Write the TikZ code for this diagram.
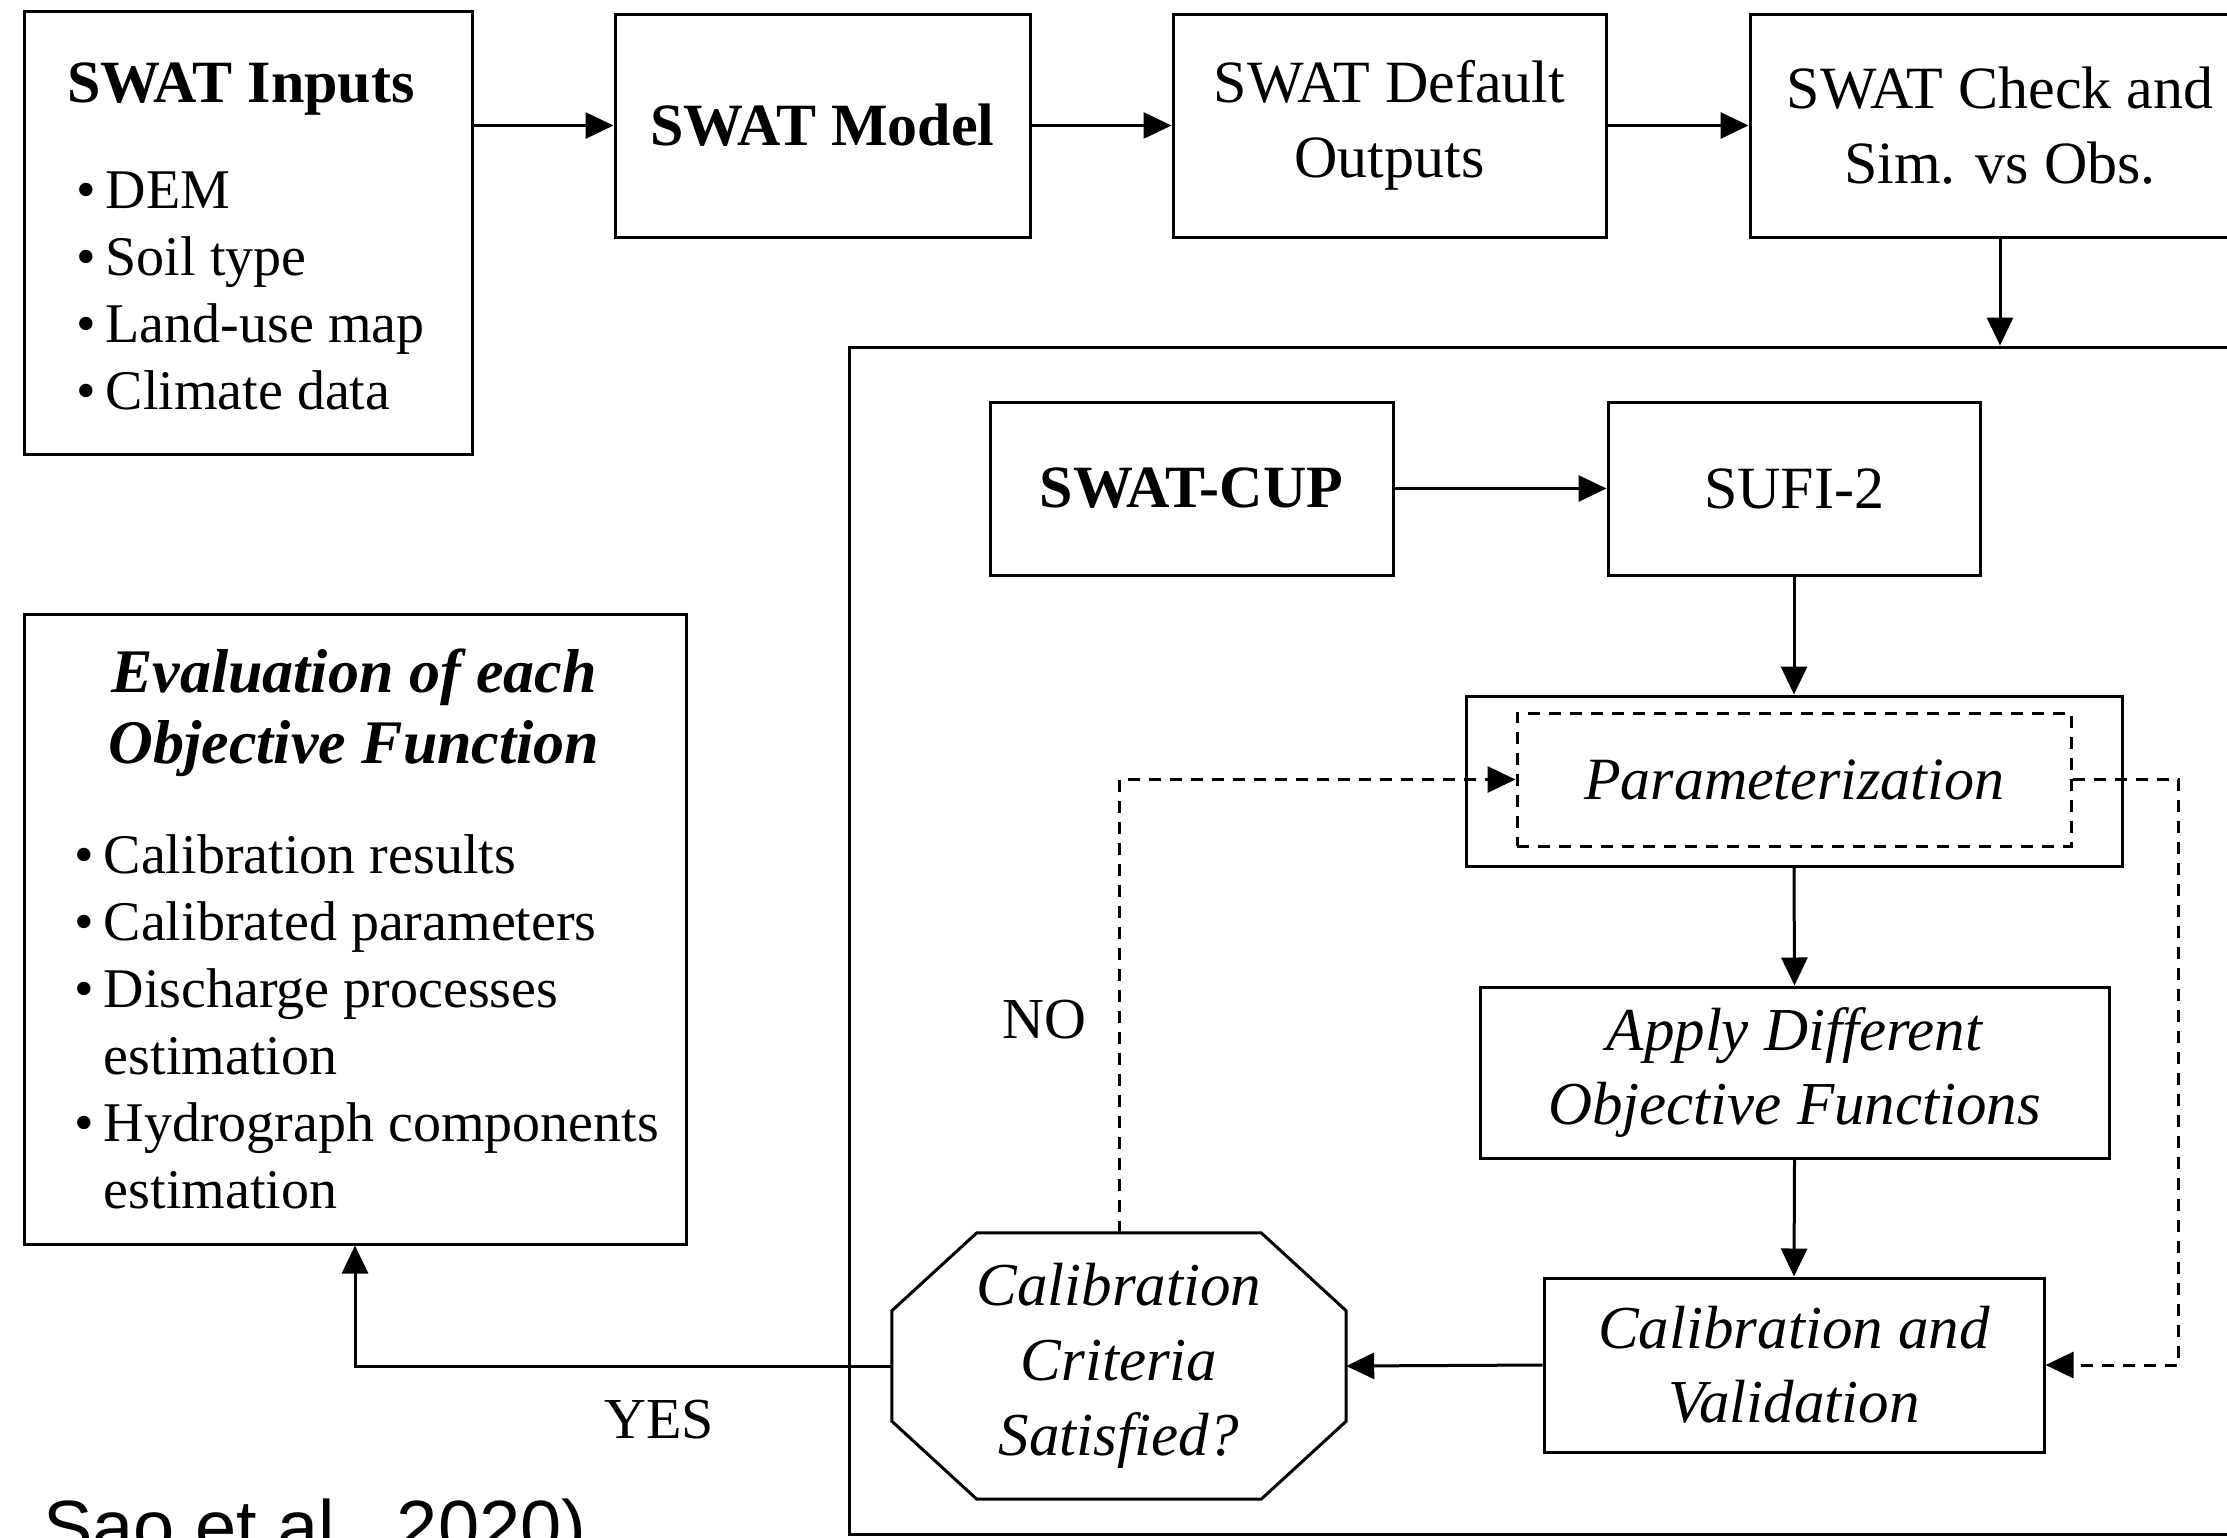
\documentclass[tikz,border=0pt]{standalone}
\usepackage{fontspec}
\setmainfont{Liberation Serif}
\newfontfamily\capfont{Liberation Sans}
\usetikzlibrary{arrows.meta,calc}
\begin{document}
\begin{tikzpicture}[x=1pt,y=-1pt,
  box/.style={draw, line width=3pt, inner sep=0pt, align=center, font=\fontsize{60}{75}\selectfont},
  itbox/.style={box, font=\fontsize{61}{74}\selectfont\itshape},
  txt/.style={inner sep=0pt},
  arr/.style={line width=3pt, -{Triangle[length=28pt,width=26pt]}},
  darr/.style={line width=3pt, dash pattern=on 12pt off 9pt, -{Triangle[length=28pt,width=26pt]}},
  dbox/.style={draw, line width=3pt, dash pattern=on 12pt off 9pt, inner sep=0pt},
]
\useasboundingbox (0,0) rectangle (2227,1537);
\clip (0,0) rectangle (2227,1537);
\fill[white] (0,0) rectangle (2227,1537);

% ---- top row ----
\node[box, minimum width=448pt, minimum height=443pt] (inputs) at (248,232.5) {};
\node[txt, anchor=base west, font=\fontsize{56}{67}\selectfont] (inputstxt) at (67,102)
 {\begin{tabular}[t]{@{}l@{\hspace{10pt}}l@{}}
  \multicolumn{2}{@{}l@{}}{\fontsize{60}{67}\selectfont\bfseries SWAT Inputs}\\[39pt]
  \hspace{9pt}\textbullet & DEM\\
  \hspace{9pt}\textbullet & Soil type\\
  \hspace{9pt}\textbullet & Land-use map\\
  \hspace{9pt}\textbullet & Climate data
  \end{tabular}};

\node[box, minimum width=415pt, minimum height=223pt, font=\fontsize{60}{75}\selectfont\bfseries] (model) at (822.5,125.5) {SWAT Model};
\node[box, minimum width=433pt, minimum height=223pt] (default) at (1389.5,125.5) {SWAT Default\\Outputs};
\node[box, minimum width=500pt, minimum height=223pt] (check) at (2000,125.5) {SWAT Check and\\Sim. vs Obs.};

% ---- container ----
\node[draw, line width=3pt, inner sep=0pt, minimum width=1420pt, minimum height=1187pt] (cont) at (1559,940.5) {};

\node[box, minimum width=403pt, minimum height=173pt, font=\fontsize{60}{75}\selectfont\bfseries] (cup) at (1191.5,488.5) {SWAT-CUP};
\node[box, minimum width=372pt, minimum height=173pt] (sufi) at (1794,488.5) {SUFI-2};

\node[box, minimum width=656pt, minimum height=170pt] (param) at (1794,781) {};
\node[dbox, minimum width=554pt, minimum height=133pt, font=\fontsize{60}{74}\selectfont\itshape] (parin) at (1794,779.5) {Parameterization};

\node[itbox, minimum width=629pt, minimum height=171pt] (apply) at (1794.5,1072.5) {Apply Different\\Objective Functions};
\node[itbox, minimum width=500pt, minimum height=174pt] (calval) at (1794,1365) {Calibration and\\Validation};

% ---- octagon ----
\node[txt, minimum width=454pt, minimum height=266pt, align=center, font=\fontsize{61}{75}\selectfont\itshape] (oct) at (1119,1366) {Calibration\\Criteria\\Satisfied?};
\draw[line width=3pt, line join=miter]
  ([xshift=85pt]oct.north west) -- ([xshift=-85pt]oct.north east)
  -- ([yshift=-78pt]oct.north east) -- ([yshift=78pt]oct.south east)
  -- ([xshift=-85pt]oct.south east) -- ([xshift=85pt]oct.south west)
  -- ([yshift=78pt]oct.south west) -- ([yshift=-78pt]oct.north west) -- cycle;

% ---- evaluation ----
\node[box, minimum width=662pt, minimum height=630pt] (eval) at (355,929) {};
\node[txt, anchor=base, font=\fontsize{62}{71}\selectfont\bfseries\itshape] (evalhead) at (354,692)
 {\begin{tabular}[t]{@{}c@{}}Evaluation of each\\Objective Function\end{tabular}};
\node[txt, anchor=base west, font=\fontsize{56}{67}\selectfont] (evaltxt) at (74,873)
 {\begin{tabular}[t]{@{}l@{\hspace{10pt}}l@{}}
  \textbullet & Calibration results\\
  \textbullet & Calibrated parameters\\
  \textbullet & Discharge processes\\
              & estimation\\
  \textbullet & Hydrograph components\\
              & estimation
  \end{tabular}};

% ---- labels ----
\node[txt, font=\fontsize{58}{60}\selectfont] (nolbl) at (1044,1020) {NO};
\node[txt, font=\fontsize{58}{60}\selectfont] (yeslbl) at (659,1420) {YES};
\node[txt, anchor=base west, font=\capfont\fontsize{74}{80}\selectfont] (caption) at (43,1552) {Sao et al., 2020)};

% ---- connectors ----
\draw[arr] (inputs.east |- model.west) -- (model.west);
\draw[arr] (model.east) -- (default.west);
\draw[arr] (default.east) -- (check.west);
\draw[arr] (check.south) -- (check.south |- cont.north);
\draw[arr] (cup.east) -- (sufi.west);
\draw[arr] (sufi.south) -- (param.north);
\draw[arr] (param.south) -- (apply.north);
\draw[arr] (apply.south) -- (calval.north);
\draw[arr] (calval.west) -- (oct.east);
\draw[arr] (oct.west) -| (eval.south);
\draw[darr] (oct.north) |- (parin.west);
\draw[darr] (parin.east) -- ++(106,0) |- (calval.east);
\end{tikzpicture}
\end{document}
